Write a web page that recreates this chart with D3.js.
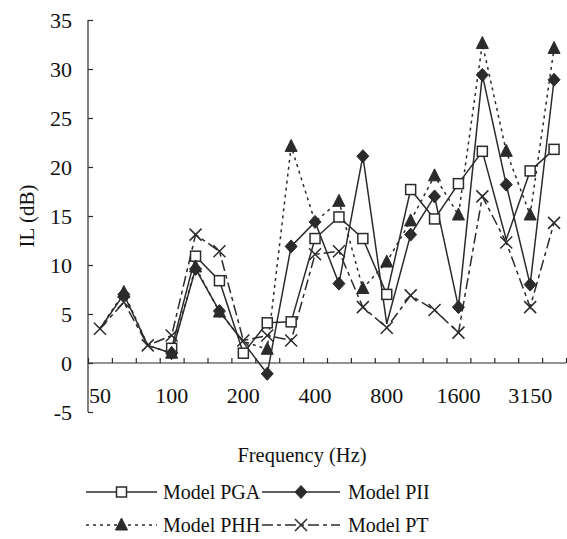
<!DOCTYPE html>
<html><head><meta charset="utf-8">
<script src="https://cdn.jsdelivr.net/npm/d3@7"></script>
<style>
html,body{margin:0;padding:0;background:#fff;}
svg{display:block;font-family:"Liberation Serif","Times New Roman",serif;}
</style></head>
<body>
<svg id="chart" width="567" height="539"></svg>
<script>
const freqs = ["50","63","80","100","125","160","200","250","315","400","500","630","800","1000","1250","1600","2000","2500","3150","4000"];
const shownFreqLabels = ["50","100","200","400","800","1600","3150"];
const yTicks = [-5,0,5,10,15,20,25,30,35];
const pga = [null,null,null,1.5,10.9,8.4,1.0,4.1,4.2,12.7,14.9,12.7,7.0,17.7,14.7,18.3,21.6,12.6,19.6,21.8];
const pii = [3.5,7.0,1.8,1.0,9.6,5.3,2.1,-1.1,11.9,14.4,8.1,21.1,4.0,13.1,17.0,5.7,29.4,18.2,8.0,28.9];
const phh = [3.5,7.2,1.8,1.0,9.8,5.2,2.2,1.4,22.1,14.4,16.5,7.6,10.3,14.5,19.1,15.1,32.6,21.6,15.1,32.1];
const pt  = [3.5,6.2,1.8,2.8,13.1,11.4,2.3,2.8,2.3,11.1,11.4,5.7,3.6,6.9,5.4,3.1,17.0,12.3,5.7,14.3];
// points drawn on the line without a visible marker in the original
const pgaNoMarker = ["2500"];
const piiNoMarker = ["50","80","200","800"];
const phhNoMarker = ["50","80","200","400"];
const ptNoMarker = [];

const seriesNames = ["Model PGA","Model PII","Model PHH","Model PT"];

(function(){
const svg = d3.select("#chart");
const col = "#2b2b2b";
const txt = "#111";
const mLeft = 88, mRight = 566, mTop = 20, mBottom = 412;

const x = d3.scaleBand().domain(freqs).range([mLeft, mRight]).padding(0);
const xEdge = d3.scaleLinear().domain([0, freqs.length]).range([mLeft, mRight]);
const y = d3.scaleLinear().domain([-5, 35]).range([mBottom, mTop]);

// Y axis
const yAxis = svg.append("g").attr("transform", `translate(${mLeft},0)`)
  .call(d3.axisLeft(y).tickValues(yTicks).tickSize(-5).tickPadding(16).tickFormat(d => String(d)));
yAxis.select(".domain").attr("stroke", col).attr("stroke-width", 1.2).attr("d", `M0,${y(-5)}V${y(35)}`);
yAxis.selectAll(".tick line").attr("stroke", col).attr("stroke-width", 1.2);
yAxis.selectAll(".tick text").attr("font-size", 22).attr("fill", txt).attr("font-family", "Liberation Serif");

// X axis (at y=0)
const xAxis = svg.append("g").attr("transform", `translate(0,${y(0)})`)
  .call(d3.axisBottom(xEdge).tickValues(d3.range(freqs.length + 1)).tickSize(-5).tickFormat(""));
xAxis.select(".domain").attr("stroke", col).attr("stroke-width", 1.2).attr("d", `M${mLeft},0H${mRight}`);
xAxis.selectAll(".tick line").attr("stroke", col).attr("stroke-width", 1.2);

svg.append("g").selectAll("text").data(shownFreqLabels).join("text")
  .attr("x", d => x(d) + x.bandwidth() / 2)
  .attr("y", 403)
  .attr("text-anchor", "middle")
  .attr("font-size", 22).attr("fill", txt)
  .text(d => d);

// Axis titles
svg.append("text").attr("transform", `translate(34,${(mTop + mBottom) / 2}) rotate(-90)`)
  .attr("text-anchor", "middle").attr("font-size", 21).attr("fill", txt).text("IL (dB)");
svg.append("text").attr("x", 302).attr("y", 462).attr("text-anchor", "middle")
  .attr("font-size", 20.5).attr("fill", txt).text("Frequency (Hz)");

// marker drawers
const sym = {
  square: (g, cx, cy) => g.append("rect").attr("x", cx - 5).attr("y", cy - 5).attr("width", 10).attr("height", 10)
      .attr("fill", "#fff").attr("stroke", col).attr("stroke-width", 1.5),
  diamond: (g, cx, cy) => g.append("path").attr("d", `M${cx},${cy-6.5}L${cx+6},${cy}L${cx},${cy+6.5}L${cx-6},${cy}Z`)
      .attr("fill", col).attr("stroke", col).attr("stroke-width", 1),
  triangle: (g, cx, cy) => g.append("path").attr("d", `M${cx},${cy-7}L${cx+6},${cy+5}L${cx-6},${cy+5}Z`)
      .attr("fill", col).attr("stroke", col).attr("stroke-width", 1),
  cross: (g, cx, cy) => g.append("path").attr("d", `M${cx-6},${cy-6}L${cx+6},${cy+6}M${cx+6},${cy-6}L${cx-6},${cy+6}`)
      .attr("fill", "none").attr("stroke", col).attr("stroke-width", 1.5)
};

const series = [
  {name: seriesNames[0], vals: pga, hide: pgaNoMarker, dash: null, marker: "square"},
  {name: seriesNames[1], vals: pii, hide: piiNoMarker, dash: null, marker: "diamond"},
  {name: seriesNames[2], vals: phh, hide: phhNoMarker, dash: "3,4", marker: "triangle"},
  {name: seriesNames[3], vals: pt, hide: ptNoMarker, dash: "11,4,4,4", marker: "cross"}
];

const line = d3.line()
  .defined(d => d.v !== null)
  .x(d => x(d.f) + x.bandwidth() / 2)
  .y(d => y(d.v));

const plot = svg.append("g");
series.forEach(s => {
  const pts = freqs.map((f, i) => ({f, v: s.vals[i]}));
  plot.append("path").datum(pts).attr("d", line)
    .attr("fill", "none").attr("stroke", col).attr("stroke-width", 1.5)
    .attr("stroke-dasharray", s.dash);
});
series.forEach(s => {
  const g = plot.append("g");
  freqs.forEach((f, i) => {
    const v = s.vals[i];
    if (v === null || s.hide.includes(f)) return;
    sym[s.marker](g, x(f) + x.bandwidth() / 2, y(v));
  });
});

// Legend
const legend = [
  {s: series[0], x1: 86, x2: 157, tx: 163, y: 492},
  {s: series[1], x1: 262, x2: 340, tx: 348, y: 492},
  {s: series[2], x1: 86, x2: 157, tx: 163, y: 525},
  {s: series[3], x1: 262, x2: 340, tx: 348, y: 525}
];
const lg = svg.append("g");
legend.forEach(l => {
  lg.append("line").attr("x1", l.x1).attr("x2", l.x2).attr("y1", l.y).attr("y2", l.y)
    .attr("stroke", col).attr("stroke-width", 1.5).attr("stroke-dasharray", l.s.dash);
  sym[l.s.marker](lg, (l.x1 + l.x2) / 2, l.y);
  lg.append("text").attr("x", l.tx).attr("y", l.y + 7).attr("font-size", 20).attr("fill", txt).text(l.s.name);
});
})();
</script>
</body></html>
